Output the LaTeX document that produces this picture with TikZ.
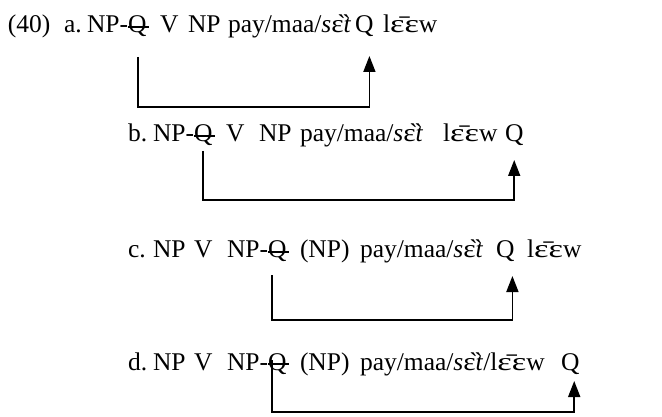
\documentclass[tikz,border=0pt]{standalone}
\usepackage{fontspec}
\usepackage{graphicx}
\setmainfont{Liberation Serif}
\usetikzlibrary{arrows.meta,calc}
\newcommand{\sEt}{\textit{s}\scalebox{1.15}[1]{ɛ̏}\textit{t}}
\newcommand{\lEEw}{l\scalebox{1.35}[1]{ɛ̄}\scalebox{1.35}[1]{ɛ}w}
\begin{document}
\begin{tikzpicture}[x=1pt,y=-1pt,
  tok/.style={anchor=base west,inner sep=0pt,outer sep=0pt,font=\fontsize{25.5}{30}\selectfont},
  arr/.style={line width=1.7pt,-{Triangle[length=16pt,width=12pt]}},
  strike/.style={line width=1.2pt}]
\useasboundingbox (0,0) rectangle (662,417);
% row a
\node[tok] (exnum) at (8,33) {(40)};
\node[tok] (la) at (64,33) {a.};
\node[tok] (npa1) at (87,33) {NP-};
\node[tok] (qa1) at (npa1.base east) {Q};
\node[tok] (va) at (160,33) {V};
\node[tok] (npa2) at (188,33) {NP};
\node[tok] (paya) at (228,33) {pay/maa/\sEt};
\node[tok] (qa2) at (355,33) {Q};
\node[tok] (leewa) at (383,33) {\lEEw};
% row b
\node[tok] (lb) at (128,142) {b.};
\node[tok] (npb1) at (153,142) {NP-};
\node[tok] (qb1) at (npb1.base east) {Q};
\node[tok] (vb) at (226,142) {V};
\node[tok] (npb2) at (259,142) {NP};
\node[tok] (payb) at (300,142) {pay/maa/\sEt};
\node[tok] (leewb) at (443,142) {\lEEw};
\node[tok] (qb2) at (505,142) {Q};
% row c
\node[tok] (lc) at (128,258) {c.};
\node[tok] (npc1) at (153,258) {NP};
\node[tok] (vc) at (194,258) {V};
\node[tok] (npc2) at (227,258) {NP-};
\node[tok] (qc1) at (npc2.base east) {Q};
\node[tok] (npc3) at (300,258) {(NP)};
\node[tok] (payc) at (360,258) {pay/maa/\sEt};
\node[tok] (qc2) at (496,258) {Q};
\node[tok] (leewc) at (527,258) {\lEEw};
% row d
\node[tok] (ld) at (128,370) {d.};
\node[tok] (npd1) at (153,370) {NP};
\node[tok] (vd) at (194,370) {V};
\node[tok] (npd2) at (227,370) {NP-};
\node[tok] (qd1) at (npd2.base east) {Q};
\node[tok] (npd3) at (300,370) {(NP)};
\node[tok] (payd) at (360,370) {pay/maa/\sEt/\lEEw};
\node[tok] (qd2) at (561,370) {Q};
% strikes
\foreach \q in {qa1,qb1,qc1,qd1}
  \draw[strike] ($(\q.base west)+(0,-6)$) -- ($(\q.base east)+(2,-6)$);
% start points and tips
\coordinate (sa) at ($(qa1.base)+(1,0)$);
\coordinate (sb) at ($(qb1.base)+(0,0)$);
\coordinate (sc) at ($(qc1.base west)+(4,0)$);
\coordinate (sd) at ($(qd1.base west)+(4,0)$);
\coordinate (ta) at ($(qa2.base east)+(-4,23)$);
\coordinate (tb) at ($(qb2.base)+(0,18)$);
\coordinate (tc) at ($(qc2.base east)+(-2,18)$);
\coordinate (td) at ($(qd2.base)+(4,11)$);
% arrows
\draw[arr] (sa |- 0,57) -- (sa |- 0,107) -| (ta);
\draw[arr] (sb |- 0,151) -- (sb |- 0,200) -| (tb);
\draw[arr] (sc |- 0,275) -- (sc |- 0,320) -| (tc);
\draw[arr] (sd |- 0,360) -- (sd |- 0,412) -| (td);
\end{tikzpicture}
\end{document}
